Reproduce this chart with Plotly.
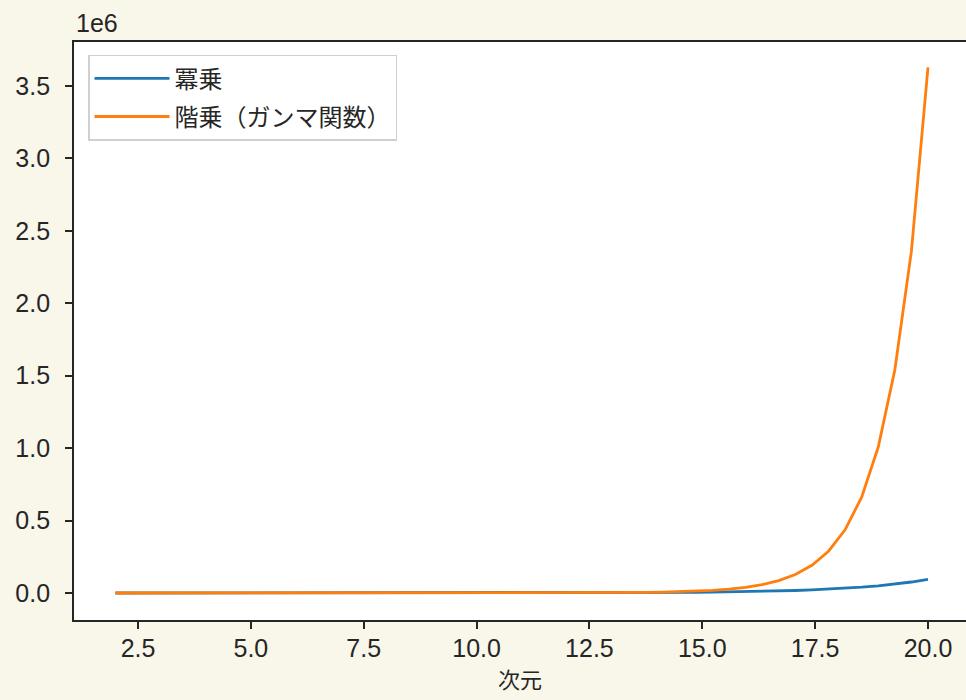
import plotly.graph_objects as go

# dimension samples (50 evenly spaced points from 2 to 20)
dims = [2.0, 2.3673, 2.7347, 3.1020, 3.4694, 3.8367, 4.2041, 4.5714, 4.9388, 5.3061,
        5.6735, 6.0408, 6.4082, 6.7755, 7.1429, 7.5102, 7.8776, 8.2449, 8.6122, 8.9796,
        9.3469, 9.7143, 10.0816, 10.4490, 10.8163, 11.1837, 11.5510, 11.9184, 12.2857, 12.6531,
        13.0204, 13.3878, 13.7551, 14.1224, 14.4898, 14.8571, 15.2245, 15.5918, 15.9592, 16.3265,
        16.6939, 17.0612, 17.4286, 17.7959, 18.1633, 18.5306, 18.8980, 19.2653, 19.6327, 20.0]

# power term
power_vals = [3.142, 3.877, 4.784, 5.903, 7.284, 8.989, 11.09, 13.69, 16.89, 20.84,
              25.72, 31.74, 39.16, 48.33, 59.63, 73.59, 90.81, 112.05, 138.27, 170.63,
              210.55, 259.82, 320.61, 395.63, 488.2, 602.4, 743.4, 917.3, 1132, 1397,
              1724, 2127, 2625, 3239, 3997, 4933, 6087, 7511, 9269, 11438,
              14114, 17417, 21493, 26522, 32728, 40387, 49837, 61499, 75890, 93648]

# factorial term (gamma function)
gamma_vals = [1.0, 1.093, 1.217, 1.379, 1.589, 1.858, 2.202, 2.645, 3.214, 3.950,
              4.908, 6.156, 7.798, 9.97, 12.85, 16.71, 21.90, 28.91, 38.45, 51.49,
              69.42, 94.22, 128.7, 176.8, 244.4, 339.6, 474.7, 667.1, 942.3, 1338,
              1909, 2737, 3942, 5703, 8289, 12101, 17739, 26114, 38597, 57278,
              85329, 127600, 191534, 288545, 436257, 661929, 1007776, 1539540, 2359786, 3628800]

series_names = ["冪乗", "階乗（ガンマ関数）"]
x_ticks = [2.5, 5.0, 7.5, 10.0, 12.5, 15.0, 17.5, 20.0]
x_tick_text = ["2.5", "5.0", "7.5", "10.0", "12.5", "15.0", "17.5", "20.0"]
y_ticks = [0, 0.5e6, 1.0e6, 1.5e6, 2.0e6, 2.5e6, 3.0e6, 3.5e6]
y_tick_text = ["0.0", "0.5", "1.0", "1.5", "2.0", "2.5", "3.0", "3.5"]

INK = "#262626"
TICK_FONT = dict(family="Liberation Sans, Arial, sans-serif", size=25, color=INK)
CJK_FONT = "Noto Sans CJK JP, sans-serif"

fig = go.Figure()
fig.add_trace(go.Scatter(x=dims, y=power_vals, mode="lines", name=series_names[0],
                         legendgroup="a", line=dict(color="#1f77b4", width=2.8)))
fig.add_trace(go.Scatter(x=dims, y=gamma_vals, mode="lines", name=series_names[1],
                         legendgroup="b", line=dict(color="#ff7f0e", width=2.8)))

fig.update_layout(
    width=966, height=700,
    margin=dict(l=74, r=0, t=42, b=80),
    paper_bgcolor="#f9f6ea",
    plot_bgcolor="#ffffff",
    showlegend=True,
    legend=dict(
        x=0.0157, y=0.978, xanchor="left", yanchor="top",
        bgcolor="rgba(255,255,255,0.9)", bordercolor="#d0d0d0", borderwidth=1.5,
        font=dict(family=CJK_FONT, size=24, color=INK),
        itemwidth=75, tracegroupgap=4,
    ),
    xaxis=dict(
        range=[1.0823, 20.842],
        tickmode="array", tickvals=x_ticks, ticktext=x_tick_text,
        ticks="outside", ticklen=7, tickwidth=1.5, tickcolor=INK,
        tickfont=TICK_FONT, ticklabelstandoff=-2,
        showgrid=False, zeroline=False,
        showline=True, linecolor=INK, linewidth=1.8, mirror=True,
        title=dict(text="次元", font=dict(family=CJK_FONT, size=22, color=INK), standoff=8),
    ),
    yaxis=dict(
        range=[-0.1864e6, 3.8037e6],
        tickmode="array", tickvals=y_ticks, ticktext=y_tick_text,
        ticks="outside", ticklen=7, tickwidth=1.5, tickcolor=INK,
        tickfont=TICK_FONT, ticklabelstandoff=10,
        showgrid=False, zeroline=False,
        showline=True, linecolor=INK, linewidth=1.8, mirror=False,
    ),
)

# axis offset label for the y scale
fig.add_annotation(text="1e6", xref="paper", yref="paper", x=0.0, y=1.0,
                   xanchor="left", yanchor="bottom", yshift=3, showarrow=False,
                   font=TICK_FONT)

fig.write_html("out.html")
